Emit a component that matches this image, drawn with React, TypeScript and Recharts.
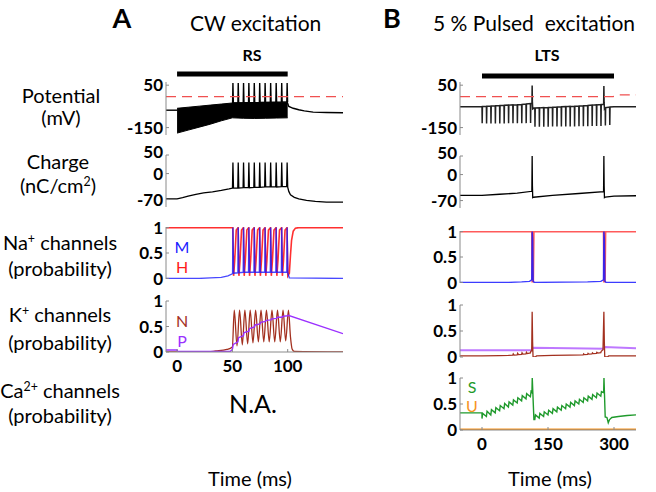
import React from 'react';
import { ComposedChart, Line, Area, XAxis, YAxis } from 'recharts';

type Pair = [number, number];
type Triple = [number, number, number];

const FONT = 'Lato, "Open Sans", sans-serif';
const GRAY = '#8a8a8a';

// axes
const domainA: [number, number] = [-10, 150];
const domainB: [number, number] = [-50, 350];
const timeTicksA = [0, 50, 100];
const timeTicksB = [0, 150, 300];
const potDomain: [number, number] = [-185, 65];
const potTicks = [-150, 50];
const chargeDomain: [number, number] = [-90, 50];
const chargeTicks = [-70, 0, 50];
const probDomain: [number, number] = [0, 1];
const naDomain: [number, number] = [-0.012, 1.012];
const probTicks = [0, 0.5, 1];

// stimulus windows (ms)
const stimA: Pair[] = [[0, 0], [100, 0]];
const stimB: Pair[] = [[0, 0], [300, 0]];

// ---- A: RS neuron, CW excitation ----
const thresholdA: Pair[] = [[-10, -4], [150, -4]];
const potPreA: Pair[] = [[-10, -68], [0.3, -68]];
// envelope of the fast oscillation [t, low, high]
const potBandA: Triple[] = [
  [0, -176, -59], [10, -162, -54], [20, -148, -49], [30, -134, -44], [40, -118, -39],
  [50, -104, -34], [60, -106, -33], [70, -107, -32], [80, -106, -31], [90, -105, -30], [100, -104, -30],
];
// [t, base, peak]
const potSpikesA: Triple[] = [
  [50.5, -34, 60], [55.3, -34, 60], [60.1, -33, 60], [64.9, -33, 60], [69.8, -33, 60], [74.7, -32, 60],
  [79.6, -32, 60], [84.6, -31, 60], [89.6, -31, 60], [94.6, -30, 60], [99.5, -30, 60],
];
const potPostA: Pair[] = [[99.6, -30], [101, -50], [105, -59], [110, -66], [115, -71], [123, -77], [135, -79], [150, -80]];

const chargePreA: Pair[] = [[-10, -68], [0, -68], [5, -65], [10, -61], [17, -56], [24, -52], [32, -49], [40, -45], [47, -41], [50, -39]];
const chargeSpikesA: Triple[] = [
  [50.5, -39, 30], [55.3, -39, 30], [60.1, -38, 30], [64.9, -38, 30], [69.8, -37, 30], [74.7, -37, 30],
  [79.6, -36, 30], [84.6, -36, 30], [89.6, -36, 30], [94.6, -35, 30], [99.5, -35, 30],
];
const chargePostA: Pair[] = [[99.9, -35], [101, -48], [102.5, -57], [106, -64], [110, -68], [117, -72], [125, -75], [135, -77], [150, -77]];

const naMPreA: Pair[] = [[-10, 0], [20, 0], [30, 0.01], [40, 0.02], [46, 0.05], [50, 0.09]];
const naMSpikesA: Triple[] = [
  [50.5, 0.1, 1], [55.3, 0.11, 1], [60.1, 0.12, 1], [64.9, 0.12, 1], [69.8, 0.12, 1], [74.7, 0.12, 1],
  [79.6, 0.12, 1], [84.6, 0.12, 1], [89.6, 0.12, 1], [94.6, 0.12, 1], [99.5, 0.12, 1],
];
const naMPostA: Pair[] = [[100.2, 0.1], [101.5, 0.01], [150, 0]];
const naHA: Pair[] = [
  [-10, 1], [50.4, 1], [51.1, 0.05], [52.1, 0.35], [53.5, 0.95], [55.2, 1], [55.9, 0.05], [56.9, 0.35], [58.3, 0.95],
  [60, 1], [60.7, 0.05], [61.7, 0.35], [63.1, 0.95], [64.8, 1], [65.5, 0.05], [66.5, 0.35], [67.9, 0.95],
  [69.7, 1], [70.4, 0.05], [71.4, 0.35], [72.8, 0.95], [74.6, 1], [75.3, 0.05], [76.3, 0.35], [77.7, 0.95],
  [79.5, 1], [80.2, 0.05], [81.2, 0.35], [82.6, 0.95], [84.5, 1], [85.2, 0.05], [86.2, 0.35], [87.6, 0.95],
  [89.5, 1], [90.2, 0.05], [91.2, 0.35], [92.6, 0.95], [94.5, 1], [95.2, 0.05], [96.2, 0.35], [97.6, 0.95],
  [99.4, 1], [100.1, 0.05], [101.5, 0.1], [102.5, 0.45], [103.5, 0.75], [105, 0.93], [107, 0.99], [110, 1], [150, 1],
];

const kNA: Pair[] = [
  [-10, 0], [25, 0], [35, 0.02], [45, 0.05], [50, 0.1],
  [51.7, 0.82], [54.2, 0.12], [56.5, 0.82], [59, 0.14], [61.3, 0.82], [63.8, 0.16], [66.1, 0.82], [68.6, 0.18],
  [71, 0.82], [73.5, 0.2], [75.9, 0.82], [78.4, 0.2], [80.8, 0.82], [83.3, 0.2], [85.8, 0.82], [88.3, 0.2],
  [90.8, 0.82], [93.3, 0.2], [95.8, 0.82], [98.2, 0.22], [100.7, 0.82], [102.5, 0.3], [104, 0.06], [106, 0.01], [150, 0],
];
const kPA: Pair[] = [
  [-10, 0.04], [0, 0.04], [0.5, 0.01], [48, 0.01], [50, 0.05], [50.8, 0.15], [55, 0.2], [55.6, 0.28], [60, 0.32],
  [60.6, 0.38], [65, 0.41], [65.5, 0.46], [70, 0.49], [70.5, 0.53], [75, 0.55], [75.5, 0.58], [80, 0.6], [80.5, 0.62],
  [85, 0.63], [85.5, 0.65], [90, 0.66], [90.5, 0.68], [95, 0.68], [95.5, 0.7], [100, 0.71], [100.5, 0.72], [150, 0.36],
];

// ---- B: LTS neuron, 5% pulsed excitation ----
const thresholdB: Pair[] = [[-50, -4], [298, -4], [312, 4], [350, 4]];
const potPreB: Pair[] = [[-50, -52], [0, -51]];
// [t, base, low] for each ultrasound pulse
const pulses1B: Triple[] = [
  [0, -50, -130], [10, -49, -131], [20, -48, -131], [30, -47, -131], [40, -46, -131], [50, -45, -131],
  [60, -44, -130], [70, -43, -130], [80, -42, -130], [90, -41, -130], [100, -39, -129], [110, -37, -128],
];
const spike1B: Pair[] = [[113.5, -36], [114, 48], [114.5, -30], [115.3, -62], [118, -58]];
const pulses2B: Triple[] = [
  [120, -58, -146], [130, -57, -146], [140, -56, -146], [150, -55, -146], [160, -54, -145], [170, -53, -145],
  [180, -52, -145], [190, -51, -145], [200, -50, -145], [210, -49, -145], [220, -48, -144], [230, -47, -144],
  [240, -46, -144], [250, -44, -143], [260, -43, -143], [270, -41, -142],
];
const spike2B: Pair[] = [[276.5, -40], [277, 46], [277.5, -30], [278.3, -60], [279.5, -56]];
const pulses3B: Triple[] = [[280, -56, -140], [290, -53, -138]];
const potPostB: Pair[] = [[300, -52], [350, -52]];

const chargeB: Pair[] = [
  [-50, -56], [0, -56], [40, -53], [80, -50], [113.3, -45], [114, 50], [114.6, -30], [115.3, -62], [117, -61],
  [160, -56], [220, -51], [276.3, -46], [277, 50], [277.6, -30], [278.3, -62], [280, -61], [300, -58], [350, -57],
];

const naHB: Pair[] = [[-50, 1], [113.6, 1], [114.4, 0.02], [116.2, 0.02], [117.5, 1], [276.6, 1], [277.4, 0.02], [279.2, 0.02], [280.5, 1], [350, 1]];
const naMB: Pair[] = [
  [-50, 0], [60, 0], [90, 0.01], [108, 0.02], [113, 0.05], [114, 1], [115.2, 0.85], [116.3, 0.02], [119, 0],
  [240, 0.01], [270, 0.02], [276, 0.05], [277, 1], [278.2, 0.85], [279.3, 0.02], [282, 0], [350, 0],
];

const kPB: Pair[] = [[-50, 0.13], [113, 0.13], [115, 0.18], [200, 0.17], [276, 0.16], [278, 0.19], [350, 0.17]];
const kNB: Pair[] = [
  [-50, 0.02], [0, 0.02], [40, 0.025], [60, 0.03], [70, 0.035], [71, 0.06], [73, 0.035], [80, 0.04], [81, 0.07],
  [83, 0.045], [90, 0.05], [91, 0.08], [93, 0.055], [100, 0.06], [101, 0.09], [103, 0.065], [110, 0.08], [111, 0.11],
  [113, 0.12], [114, 0.87], [115, 0.3], [116, 0], [121, 0], [124, 0.02], [160, 0.03], [200, 0.035], [230, 0.04],
  [231, 0.06], [233, 0.045], [240, 0.05], [241, 0.07], [243, 0.055], [250, 0.06], [251, 0.08], [253, 0.065],
  [260, 0.07], [261, 0.09], [263, 0.075], [270, 0.085], [271, 0.11], [275, 0.14], [277, 0.87], [278, 0.3],
  [279, 0], [285, 0], [288, 0.02], [350, 0.02],
];

const caSPreB: Pair[] = [[-50, 0.33], [0, 0.33]];
// [t, low, high] for each sawtooth step
const caTeeth1B: Triple[] = [
  [0, 0.22, 0.32], [10, 0.26, 0.36], [20, 0.29, 0.39], [30, 0.33, 0.43], [40, 0.37, 0.47], [50, 0.41, 0.51],
  [60, 0.44, 0.54], [70, 0.48, 0.58], [80, 0.52, 0.62], [90, 0.56, 0.66], [100, 0.6, 0.7], [110, 0.64, 0.74],
];
const caSpike1B: Pair[] = [[113.5, 0.72], [114.2, 1], [118, 0.2]];
const caTeeth2B: Triple[] = [
  [120, 0.2, 0.29], [130, 0.23, 0.32], [140, 0.26, 0.35], [150, 0.29, 0.38], [160, 0.32, 0.41], [170, 0.35, 0.44],
  [180, 0.38, 0.47], [190, 0.41, 0.5], [200, 0.44, 0.53], [210, 0.47, 0.56], [220, 0.5, 0.59], [230, 0.53, 0.62],
  [240, 0.56, 0.65], [250, 0.59, 0.68], [260, 0.62, 0.71], [270, 0.65, 0.74],
];
const caPostB: Pair[] = [[276.5, 0.72], [277.2, 1], [280, 0.25], [284, 0.24], [287, 0.14], [290, 0.2], [295, 0.24], [310, 0.26], [330, 0.28], [350, 0.29]];
const caUB: Pair[] = [[-50, 0.01], [350, 0.01]];

// ---- helpers ----
const pts = (a: Pair[]) => a.map(([t, v]) => ({ t, v }));
const bandPts = (a: Triple[]) => a.map(([t, lo, hi]) => ({ t, v: [lo, hi] }));
const spikePts = (a: Triple[], rise = 0.3, fall = 0.4): Pair[] =>
  a.flatMap(([t, base, peak]) => [[t - rise, base], [t, peak], [t + fall, base]] as Pair[]);
const pulsePts = (a: Triple[]): Pair[] =>
  a.flatMap(([t, base, low]) => [[t, base], [t + 0.4, low], [t + 1, base]] as Pair[]);
const teethPts = (a: Triple[]): Pair[] => a.flatMap(([t, low, high]) => [[t, low], [t + 1.5, high]] as Pair[]);

function trace(key: string, data: Pair[], stroke: string, strokeWidth = 1.4, extra: any = {}) {
  return (
    <Line
      key={key}
      data={pts(data)}
      dataKey="v"
      xAxisId="b"
      yAxisId="l"
      type="linear"
      stroke={stroke}
      strokeWidth={strokeWidth}
      dot={false}
      activeDot={false}
      isAnimationActive={false}
      {...extra}
    />
  );
}

const tickStyle = { fill: '#000', fontSize: 17, fontWeight: 700, fontFamily: FONT };

// y tick label, nudged a little where MATLAB packed labels tightly
const yTick = (shift: Record<string, number> = {}) => (props: any) => {
  const { x, y, payload } = props;
  const dy = shift[String(payload.value)] ?? 0;
  return (
    <text x={x} y={y + dy} dy="0.36em" textAnchor="end" fill="#000" fontSize={17} fontWeight={700} fontFamily={FONT}>
      {payload.value}
    </text>
  );
};

function Panel({ left, top, width, height, xDomain, yDomain, xTicks, yTicks, showX, shift, children }: any) {
  const yw = 60;
  const pad = 16;
  const xh = showX ? 28 : 0;
  return (
    <div style={{ position: 'absolute', left: left - yw, top: top - pad }}>
      <ComposedChart width={width + yw + 2} height={height + 2 * pad + xh} margin={{ top: pad, right: 2, bottom: pad, left: 0 }}>
        <XAxis xAxisId="b" dataKey="t" type="number" domain={xDomain} ticks={xTicks} allowDataOverflow height={xh}
          stroke={GRAY} tickSize={-3} tickMargin={11} tick={showX ? tickStyle : false} interval={0} />
        <XAxis xAxisId="t" dataKey="t" orientation="top" type="number" domain={xDomain} ticks={xTicks} allowDataOverflow
          height={0} stroke={GRAY} tickSize={-3} tick={false} interval={0} />
        <YAxis yAxisId="l" type="number" domain={yDomain} ticks={yTicks} allowDataOverflow width={yw}
          stroke={GRAY} tickSize={-3} tickMargin={6} tick={yTick(shift)} interval={0} />
        <YAxis yAxisId="r" orientation="right" type="number" domain={yDomain} ticks={yTicks} allowDataOverflow width={0}
          stroke={GRAY} tickSize={-3} tick={false} interval={0} />
        {children}
      </ComposedChart>
    </div>
  );
}

function StimBar({ left, top, width, domain, data }: any) {
  return (
    <div style={{ position: 'absolute', left, top: top - 5 }}>
      <ComposedChart width={width} height={10} margin={{ top: 0, right: 0, bottom: 0, left: 0 }}>
        <XAxis dataKey="t" type="number" domain={domain} hide />
        <YAxis type="number" domain={[-1, 1]} hide />
        <Line data={pts(data)} dataKey="v" stroke="#000" strokeWidth={5} dot={false} activeDot={false} isAnimationActive={false} />
      </ComposedChart>
    </div>
  );
}

function Txt({ x, y, size = 20, bold = false, color = '#000', align = 'middle', children }: any) {
  return (
    <div
      style={{
        position: 'absolute',
        left: x,
        top: y,
        transform: align === 'middle' ? 'translate(-50%, -50%)' : 'translate(0, -50%)',
        fontSize: size,
        fontWeight: bold ? 700 : 400,
        color,
        whiteSpace: 'pre',
        lineHeight: 1,
      }}
    >
      {children}
    </div>
  );
}

const Sup = ({ children }: any) => (
  <span style={{ fontSize: '0.62em', position: 'relative', top: '-0.55em' }}>{children}</span>
);

const RED = '#ff1a1a';
const BLUE = '#1a1aff';
const BROWN = '#a3301f';
const PURPLE = '#9b30ff';
const GREEN = '#1f9a2c';
const ORANGE = '#f7931e';

const chargeShift = { '50': -3 };

export default function App() {
  const A = { left: 166, width: 177, xDomain: domainA, xTicks: timeTicksA };
  const B = { left: 460, width: 176, xDomain: domainB, xTicks: timeTicksB };
  return (
    <div style={{ position: 'absolute', left: 0, top: 0, width: 656, height: 492, background: '#fff', fontFamily: FONT, overflow: 'hidden' }}>
      {/* headings */}
      <Txt x={122} y={17} size={27} bold>A</Txt>
      <Txt x={190} y={22} size={21} align="start">CW excitation</Txt>
      <Txt x={392} y={17} size={27} bold>B</Txt>
      <Txt x={433} y={22} size={21} align="start">5 % Pulsed  excitation</Txt>
      <Txt x={252} y={55} size={16} bold>RS</Txt>
      <Txt x={547} y={55} size={16} bold>LTS</Txt>

      {/* row labels */}
      <Txt x={61} y={95}>Potential</Txt>
      <Txt x={61} y={117}>(mV)</Txt>
      <Txt x={58} y={161}>Charge</Txt>
      <Txt x={58} y={185}>(nC/cm<Sup>2</Sup>)</Txt>
      <Txt x={60} y={242}>Na<Sup>+</Sup> channels</Txt>
      <Txt x={60} y={268}>(probability)</Txt>
      <Txt x={60} y={314}>K<Sup>+</Sup> channels</Txt>
      <Txt x={60} y={342}>(probability)</Txt>
      <Txt x={60} y={390}>Ca<Sup>2+</Sup> channels</Txt>
      <Txt x={60} y={415}>(probability)</Txt>

      <Txt x={253} y={403} size={25}>N.A.</Txt>
      <Txt x={250} y={478}>Time (ms)</Txt>
      <Txt x={550} y={478}>Time (ms)</Txt>

      <StimBar left={A.left} top={74} width={A.width} domain={domainA} data={stimA} />
      <StimBar left={B.left} top={76} width={B.width} domain={domainB} data={stimB} />

      {/* A panels */}
      <Panel {...A} top={82} height={53} yDomain={potDomain} yTicks={potTicks}>
        {trace('preA', potPreA, '#000', 1.4)}
        <Area key="bandA" data={bandPts(potBandA)} dataKey="v" xAxisId="b" yAxisId="l" type="linear" stroke="#000"
          strokeWidth={1} fill="#000" fillOpacity={1} dot={false} activeDot={false} isAnimationActive={false} />
        {trace('spkA', spikePts(potSpikesA), '#000', 1.4)}
        {trace('postA', potPostA, '#000', 1.4)}
        {trace('thrA', thresholdA, '#f05050', 1.2, { strokeDasharray: '10 6' })}
      </Panel>
      <Panel {...A} top={155} height={52} yDomain={chargeDomain} yTicks={chargeTicks} shift={chargeShift}>
        {trace('chA', [...chargePreA, ...spikePts(chargeSpikesA, 0.4, 0.5), ...chargePostA], '#000', 1.3)}
      </Panel>
      <Panel {...A} top={227} height={52} yDomain={naDomain} yTicks={probTicks}>
        {trace('hA', naHA, RED, 1.6, { strokeOpacity: 0.9 })}
        {trace('mA', [...naMPreA, ...spikePts(naMSpikesA, 0.3, 0.6), ...naMPostA], BLUE, 1.4, { strokeOpacity: 0.8 })}
      </Panel>
      <Panel {...A} top={301} height={51} yDomain={probDomain} yTicks={probTicks} showX>
        {trace('nA', kNA, BROWN, 1.3, { type: 'monotone' })}
        {trace('pA', kPA, PURPLE, 1.4)}
      </Panel>
      <Txt x={182} y={247} size={16} color={BLUE}>M</Txt>
      <Txt x={182} y={267} size={16} color={RED}>H</Txt>
      <Txt x={182} y={321} size={16} color={BROWN}>N</Txt>
      <Txt x={182} y={341} size={16} color={PURPLE}>P</Txt>

      {/* B panels */}
      <Panel {...B} top={82} height={53} yDomain={potDomain} yTicks={potTicks}>
        {trace('potB', [...potPreB, ...pulsePts(pulses1B), ...spike1B, ...pulsePts(pulses2B), ...spike2B, ...pulsePts(pulses3B), ...potPostB], '#222', 1.5)}
        {trace('thrB', thresholdB, '#f05050', 1.2, { strokeDasharray: '10 6' })}
      </Panel>
      <Panel {...B} top={156} height={52} yDomain={chargeDomain} yTicks={chargeTicks} shift={chargeShift}>
        {trace('chB', chargeB, '#000', 1.3)}
      </Panel>
      <Panel {...B} top={231} height={52} yDomain={naDomain} yTicks={probTicks}>
        {trace('hB', naHB, '#ff5a5a', 2)}
        {trace('mB', naMB, BLUE, 1.4, { strokeOpacity: 0.85 })}
      </Panel>
      <Panel {...B} top={305} height={52} yDomain={probDomain} yTicks={probTicks}>
        {trace('pB', kPB, PURPLE, 2, { strokeOpacity: 0.65 })}
        {trace('nB', kNB, BROWN, 1.3)}
      </Panel>
      <Panel {...B} top={378} height={52} yDomain={probDomain} yTicks={probTicks} showX>
        {trace('uB', caUB, ORANGE, 2)}
        {trace('sB', [...caSPreB, ...teethPts(caTeeth1B), ...caSpike1B, ...teethPts(caTeeth2B), ...caPostB], GREEN, 1.4)}
      </Panel>
      <Txt x={472} y={387} size={16} color={GREEN}>S</Txt>
      <Txt x={472} y={406} size={16} color={ORANGE}>U</Txt>
    </div>
  );
}
